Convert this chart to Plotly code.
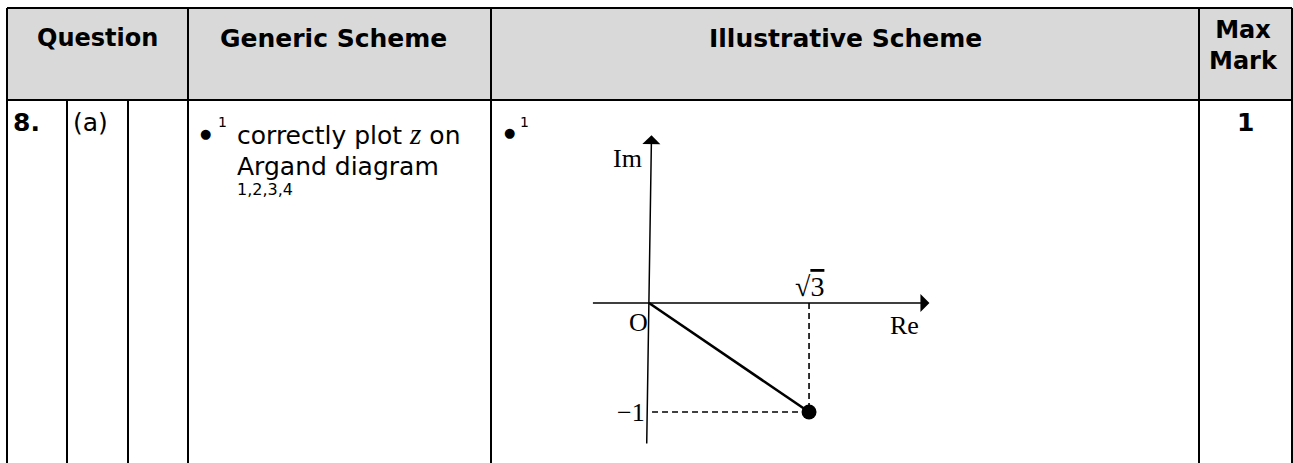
import plotly.graph_objects as go

# table content
HEADERS = ["Question", "Generic Scheme", "Illustrative Scheme", "Max<br>Mark"]
QUESTION = ["8.", "(a)", ""]
GENERIC_LINES = ["correctly plot <span style='font-family:Liberation Serif;font-size:29px'><i>z</i></span> on",
                 "Argand diagram"]
GENERIC_NOTES = "1,2,3,4"
BULLET_NO = "1"
MAX_MARK = "1"

# the point z on the Argand diagram
Z_RE = [0, 1.732]
Z_IM = [0, -1]
RE_TICK = "√<span style='text-decoration:overline'>3</span>"
IM_TICK = "−1"
AXIS_LABELS = ["Re", "Im", "O"]

W, H = 1293, 463
SANS = "DejaVu Sans"
SERIF = "Liberation Serif"

# column borders (px)
COL_X = [7, 67, 128, 188, 491, 1199, 1292]
TOP, HEAD_BOTTOM = 8, 100

fig = go.Figure()

# --- table grid ---
shapes = [dict(type="rect", xref="x", yref="y", x0=COL_X[0], x1=COL_X[-1], y0=TOP, y1=HEAD_BOTTOM,
               fillcolor="#d9d9d9", line=dict(width=0), layer="below")]
line = dict(color="black", width=2)
shapes.append(dict(type="line", xref="x", yref="y", x0=COL_X[0], x1=COL_X[-1], y0=TOP, y1=TOP, line=line))
shapes.append(dict(type="line", xref="x", yref="y", x0=COL_X[0], x1=COL_X[-1], y0=HEAD_BOTTOM, y1=HEAD_BOTTOM, line=line))
for i, cx in enumerate(COL_X):
    y0 = HEAD_BOTTOM if i in (1, 2) else TOP
    shapes.append(dict(type="line", xref="x", yref="y", x0=cx, x1=cx, y0=y0, y1=H, line=line))

ann = []
def txt(x, y, text, size=25, bold=False, family=SANS, xanchor="center", yanchor="middle", **kw):
    if bold:
        text = "<b>" + text + "</b>"
    ann.append(dict(x=x, y=y, xref="x", yref="y", text=text, showarrow=False,
                    font=dict(family=family, size=size, color="black"),
                    xanchor=xanchor, yanchor=yanchor, **kw))

# header
txt((COL_X[0] + COL_X[3]) / 2, 38, HEADERS[0], bold=True, size=24)
txt(333, 38, HEADERS[1], bold=True)
txt((COL_X[4] + COL_X[5]) / 2, 38, HEADERS[2], bold=True)
txt(1243, 45, HEADERS[3], bold=True, size=24)

# first row
txt(11, 122, QUESTION[0], bold=True, xanchor="left")
txt(90, 122, QUESTION[1])
txt(1245, 122, MAX_MARK, bold=True)

# generic scheme
txt(205, 133, "●", size=13)
txt(222, 122, BULLET_NO, size=14)
txt(235, 134, GENERIC_LINES[0], xanchor="left")
txt(235, 166, GENERIC_LINES[1], xanchor="left")
txt(235, 189, GENERIC_NOTES, size=16, xanchor="left")

# illustrative scheme bullet
txt(509, 132, "●", size=13)
txt(524, 122, BULLET_NO, size=14)

# --- Argand diagram on its own axes ---
ORIGIN_PX = (649, 303)
KX, KY = 92.4, 109.0
DOM_X = (560, 960)
DOM_Y = (120, 455)
x_range = [(DOM_X[0] - ORIGIN_PX[0]) / KX, (DOM_X[1] - ORIGIN_PX[0]) / KX]
y_range = [(ORIGIN_PX[1] - DOM_Y[1]) / KY, (ORIGIN_PX[1] - DOM_Y[0]) / KY]

# dashed projections
fig.add_trace(go.Scatter(x=[Z_RE[1], Z_RE[1], Z_RE[0]], y=[Z_IM[0], Z_IM[1], Z_IM[1]],
                         mode="lines", line=dict(color="black", width=1.6, dash="6px,4px"),
                         xaxis="x2", yaxis="y2", hoverinfo="skip", showlegend=False))
# O -> z
fig.add_trace(go.Scatter(x=Z_RE, y=Z_IM, mode="lines", line=dict(color="black", width=2.6),
                         xaxis="x2", yaxis="y2", hoverinfo="skip", showlegend=False))
fig.add_trace(go.Scatter(x=[Z_RE[1]], y=[Z_IM[1]], mode="markers",
                         marker=dict(color="black", size=15), cliponaxis=False,
                         xaxis="x2", yaxis="y2", showlegend=False))

# axes with arrowheads
ax_style = dict(xref="x2", yref="y2", axref="x2", ayref="y2", text="", showarrow=True,
                arrowhead=1, arrowsize=2, arrowwidth=1.5, arrowcolor="black", standoff=0)
ann.append(dict(x=3.035, y=0, ax=x_range[0] + 0.34, ay=0, **ax_style))
ann.append(dict(x=0.027, y=1.54, ax=-0.025, ay=-1.303, **ax_style))

def dtxt(x, y, text, size=26, xanchor="center", yanchor="middle", xshift=0, yshift=0):
    ann.append(dict(x=x, y=y, xref="x2", yref="y2", text=text, showarrow=False,
                    font=dict(family=SERIF, size=size, color="black"),
                    xanchor=xanchor, yanchor=yanchor, xshift=xshift, yshift=yshift))

dtxt(Z_RE[1], Z_IM[0], RE_TICK, size=28, yshift=17)
dtxt(Z_IM[0], Z_IM[1], IM_TICK, xanchor="right", xshift=-2)
dtxt(2.77, 0, AXIS_LABELS[0], yshift=-22)
dtxt(0, 1.33, AXIS_LABELS[1], xanchor="right", xshift=-5)
dtxt(0, 0, AXIS_LABELS[2], xanchor="right", yshift=-19, xshift=1)

hidden = dict(visible=False, fixedrange=True)
fig.update_layout(
    width=W, height=H,
    margin=dict(l=0, r=0, t=0, b=0),
    paper_bgcolor="white", plot_bgcolor="rgba(0,0,0,0)",
    xaxis=dict(range=[0, W], domain=[0, 1], **hidden),
    yaxis=dict(range=[H, 0], domain=[0, 1], **hidden),
    xaxis2=dict(range=x_range, domain=[DOM_X[0] / W, DOM_X[1] / W], anchor="y2", **hidden),
    yaxis2=dict(range=y_range, domain=[1 - DOM_Y[1] / H, 1 - DOM_Y[0] / H], anchor="x2", **hidden),
    shapes=shapes,
    annotations=ann,
    showlegend=False,
)

# page body has a default 8px margin; drop it so the figure sits at the window corner
fig.write_html("out.html", config={"displayModeBar": False},
               post_script="document.body.style.margin='0';")
